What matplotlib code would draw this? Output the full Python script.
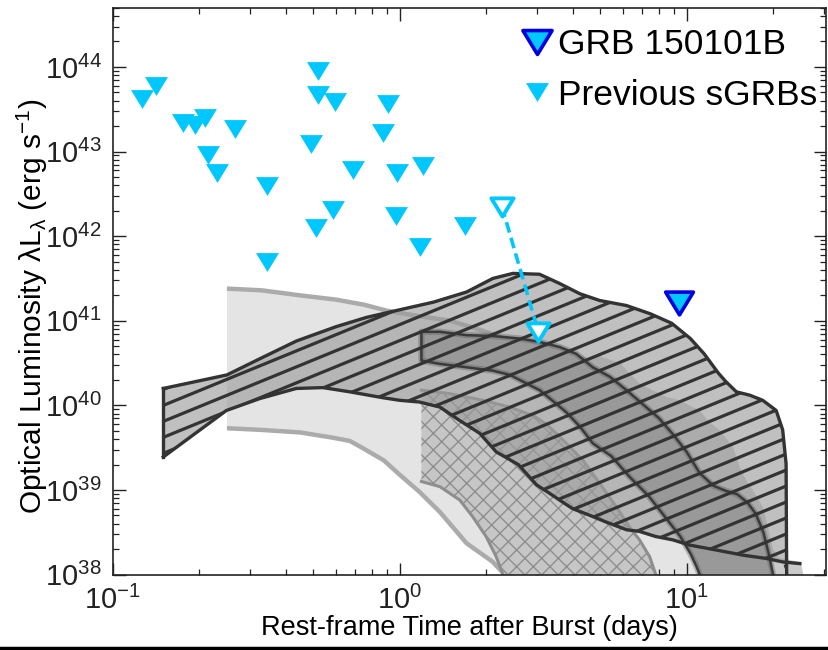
import numpy as np
import matplotlib
matplotlib.use("Agg")
import matplotlib.pyplot as plt
from matplotlib.lines import Line2D
from matplotlib.path import Path

# ---------------- data ----------------
# Previous short GRBs: optical upper limits (rest-frame days, erg/s)
prev_t = [0.126, 0.141, 0.176, 0.194, 0.209, 0.214, 0.231, 0.266, 0.345, 0.345,
          0.492, 0.511, 0.517, 0.520, 0.586, 0.593, 0.689, 0.877, 0.911, 0.97,
          0.98, 1.18, 1.21, 1.69]
prev_L = [4.2e43, 5.9e43, 2.2e43, 2.04e43, 2.5e43, 9.1e42, 5.6e42, 1.87e43, 3.9e42, 5.0e41,
          1.22e43, 1.25e42, 4.6e43, 8.9e43, 2.06e42, 3.8e43, 6.0e42, 1.67e43, 3.6e43, 1.73e42,
          5.6e42, 7.4e41, 6.8e42, 1.32e42]

# GRB 150101B upper limit
grb_t = [9.42]
grb_L = [1.6e41]

# Shifted limit (open markers joined by dashed line)
shift_t = [2.27, 3.04]
shift_L = [2.24e42, 7.4e40]

# Light band (log10 L)
a_hi_t = [0.25, 0.33, 0.45, 0.6, 0.75, 0.9, 1.05, 1.25, 1.5, 1.8, 2.2, 2.7, 3.3, 4.0,
          5.0, 6.2, 7.5, 9.0, 10.5, 11.5]
a_hi_logL = [41.38, 41.36, 41.30, 41.25, 41.19, 41.12, 41.08, 41.04, 41.00, 40.92, 40.82,
             40.68, 40.52, 40.36, 40.10, 39.78, 39.40, 38.95, 38.45, 38.0]
a_lo_t = [0.25, 0.33, 0.45, 0.58, 0.67, 0.73, 0.88, 1.0, 1.17, 1.38, 1.71, 2.11, 2.32]
a_lo_logL = [39.73, 39.71, 39.68, 39.62, 39.58, 39.51, 39.35, 39.18, 38.98, 38.74, 38.37,
             38.15, 38.0]

# Cross-hatched band
b_hi_t = [1.19, 1.49, 1.95, 2.42, 2.91, 3.24, 3.71, 4.35, 4.97, 5.69, 6.33, 6.85, 7.43, 7.8]
b_hi_logL = [40.18, 40.14, 40.06, 39.98, 39.88, 39.78, 39.59, 39.35, 39.08, 38.80, 38.56,
             38.41, 38.21, 38.0]
b_lo_t = [1.19, 1.38, 1.62, 1.80, 2.0, 2.17, 2.29]
b_lo_logL = [39.10, 39.04, 38.88, 38.68, 38.45, 38.21, 38.0]

# Striped band
d_hi_t = [0.15, 0.25, 0.325, 0.436, 0.6, 0.766, 1.0, 1.31, 1.71, 2.11, 2.48, 3.07, 3.61,
          4.24, 4.97, 6.17, 7.5, 8.87, 10.3, 11.5, 12.9, 13.7, 14.9, 16.6, 18.4, 20.5,
          21.6, 22.2, 22.3]
d_hi_logL = [40.20, 40.36, 40.55, 40.76, 40.93, 41.04, 41.13, 41.22, 41.34, 41.50, 41.56,
             41.55, 41.44, 41.32, 41.24, 41.18, 41.08, 40.97, 40.79, 40.61, 40.38, 40.28,
             40.16, 40.12, 40.06, 39.94, 39.71, 39.31, 38.0]
d_lo_t = [0.15, 0.249, 0.325, 0.436, 0.54, 0.67, 0.875, 1.0, 1.17, 1.38, 1.62, 1.90, 2.17,
          2.59, 3.0, 3.33, 3.61, 4.0, 4.6, 5.25, 6.17, 6.85, 7.8, 8.96, 10.2, 12.7, 15.7,
          19.0, 21.6, 24.8]
d_lo_logL = [39.39, 39.94, 40.08, 40.20, 40.21, 40.16, 40.09, 40.06, 40.04, 39.98, 39.82,
             39.67, 39.45, 39.30, 39.06, 38.96, 38.88, 38.78, 38.70, 38.62, 38.53, 38.51,
             38.45, 38.41, 38.35, 38.29, 38.23, 38.19, 38.15, 38.13]

# Dark band
e_hi_t = [1.19, 1.38, 1.71, 2.11, 2.62, 3.07, 3.61, 4.12, 4.71, 5.39, 6.17, 7.0, 8.0,
          9.0, 10.0, 11.1, 12.4, 13.7, 15.0, 16.3, 17.4, 18.5, 19.3, 20.0]
e_hi_logL = [40.87, 40.87, 40.83, 40.82, 40.79, 40.75, 40.69, 40.61, 40.45, 40.34, 40.18,
             40.02, 39.85, 39.65, 39.45, 39.20, 39.05, 38.99, 38.95, 38.85, 38.72, 38.50,
             38.25, 38.0]
e_lo_t = [1.19, 1.38, 1.71, 2.11, 2.42, 2.76, 3.07, 3.42, 3.8, 4.24, 4.71, 5.46, 6.34,
          7.36, 8.5, 9.5, 10.3, 10.8, 11.1]
e_lo_logL = [40.53, 40.49, 40.45, 40.41, 40.36, 40.26, 40.18, 40.05, 39.92, 39.75, 39.55,
             39.40, 39.15, 38.93, 38.66, 38.45, 38.25, 38.10, 38.0]

# Noisy medium band (outer edge)
c_t = [4.2, 4.6, 5.0, 5.5, 5.9, 6.2, 6.85, 7.2, 7.6, 8.5, 9.45, 10.2, 11.1, 12.0, 13.0,
       14.5, 15.3, 16.1, 17.0, 18.4, 19.3, 20.0, 21.0, 23.0, 25.0, 25.5]
c_logL = [40.60, 40.55, 40.58, 40.53, 40.49, 40.41, 40.26, 40.22, 40.18, 40.10, 40.06,
          40.00, 39.94, 39.80, 39.71, 39.51, 39.27, 39.12, 39.00, 38.80, 38.53, 38.30,
          38.20, 38.17, 38.15, 38.0]

x_tick_exp = [-1, 0, 1]
y_tick_exp = [38, 39, 40, 41, 42, 43, 44]

# ---------------- style ----------------
FONT = ['Liberation Sans', 'DejaVu Sans']
plt.rcParams['font.family'] = FONT
plt.rcParams['mathtext.fontset'] = 'custom'
plt.rcParams['mathtext.rm'] = 'Liberation Sans'
plt.rcParams['mathtext.it'] = 'Liberation Sans'
plt.rcParams['hatch.linewidth'] = 1.0

CYAN = '#00C8FF'
DARK = '#333333'

fig = plt.figure(figsize=(8.29, 6.5), dpi=100)
ax = fig.add_axes([0.136, 0.116, 0.860, 0.872])
ax.set_xscale('log')
ax.set_yscale('log')
ax.set_xlim(0.1, 30.5)
ax.set_ylim(1e38, 5e44)


def L(v):
    return 10 ** np.asarray(v, dtype=float)


def band(t_hi, l_hi, t_lo, l_lo):
    xs = np.r_[np.asarray(t_hi, float), np.asarray(t_lo, float)[::-1]]
    ys = np.r_[L(l_hi), L(l_lo)[::-1]]
    return xs, ys


# light band
xs, ys = band(a_hi_t, a_hi_logL, a_lo_t, a_lo_logL)
ax.fill(xs, ys, color='#E4E4E4', lw=0, zorder=1)
ax.plot(a_hi_t, L(a_hi_logL), color='#ABABAB', lw=3.2, zorder=1.2, solid_capstyle='butt')
ax.plot(a_lo_t, L(a_lo_logL), color='#ABABAB', lw=3.2, zorder=1.2, solid_capstyle='butt')

# cross-hatched band
xs, ys = band(b_hi_t, b_hi_logL, b_lo_t, b_lo_logL)
ax.fill(xs, ys, facecolor='#C6C6C6', edgecolor='#8E8E8E', hatch='xx', lw=0, zorder=2)
ax.plot(b_hi_t, L(b_hi_logL), color='#8E8E8E', lw=2.2, zorder=2.2)
ax.plot(b_lo_t, L(b_lo_logL), color='#8E8E8E', lw=2.2, zorder=2.2)

# noisy medium band, bounded inside by the dark band
xs = np.r_[np.asarray(c_t, float), np.asarray(e_lo_t, float)[::-1][:-1]]
ys = np.r_[L(c_logL), L(e_lo_logL)[::-1][:-1]]
ax.fill(xs, ys, color='#CACACA', lw=0, zorder=2.5)

# striped band fill (semi-transparent)
xs = np.r_[np.asarray(d_hi_t, float), [22.3], np.asarray(d_lo_t, float)[::-1]]
ys = np.r_[L(d_hi_logL), [1e38], L(d_lo_logL)[::-1]]
mask = xs <= 22.3
d_poly = ax.fill(xs[mask], ys[mask], color='#9A9A9A', alpha=0.62, lw=0, zorder=3)[0]

# dark band
xs, ys = band(e_hi_t, e_hi_logL, e_lo_t, e_lo_logL)
ax.fill(xs, ys, color='#999999', lw=0, zorder=3.5)
e_edge_x = np.r_[np.asarray(e_lo_t, float)[::-1], np.asarray(e_hi_t, float)]
e_edge_y = np.r_[L(e_lo_logL)[::-1], L(e_hi_logL)]
ax.plot(e_edge_x, e_edge_y, color='#555555', lw=4.5, alpha=0.35, zorder=3.6)
ax.plot(e_edge_x, e_edge_y, color='#3A3A3A', lw=1.8, zorder=3.7)

# stripes clipped to the striped band
slope = 0.515
gap = 0.0282
for k in range(-40, 40):
    c0 = -0.02 + k * gap
    ln, = ax.plot([0, 1], [c0, c0 + slope], transform=ax.transAxes,
                  color=DARK, lw=2.3, zorder=4)
    ln.set_clip_path(d_poly)

# striped band outline
ax.plot(d_hi_t, L(d_hi_logL), color=DARK, lw=2.4, zorder=4.2)
ax.plot(d_lo_t, L(d_lo_logL), color=DARK, lw=2.4, zorder=4.2)
ax.plot([d_hi_t[0], d_lo_t[0]], [L(d_hi_logL[0]), L(d_lo_logL[0])], color=DARK, lw=2.4,
        zorder=4.2)

# upper limits (closed downward triangle, slightly wider than tall)
tri = Path([(-1, 0.82), (1, 0.82), (0, -0.82), (-1, 0.82)], closed=True)
ax.plot(prev_t, prev_L, ls='none', marker=tri, ms=16.5, mfc=CYAN, mec=CYAN, mew=0,
        zorder=6)
ax.plot(shift_t, shift_L, ls=(0, (3.0, 1.5)), color=CYAN, lw=2.6, zorder=6)
ax.plot(shift_t, shift_L, ls='none', marker=tri, ms=16, mfc='white', mec=CYAN, mew=2.8,
        zorder=7)
ax.plot(grb_t, grb_L, ls='none', marker=tri, ms=20, mfc=CYAN, mec='#0000E0', mew=2.6,
        zorder=7)

# axes styling
for sp in ax.spines.values():
    sp.set_linewidth(1.2)
    sp.set_color('#222222')
    sp.set_zorder(10)
ax.tick_params(which='both', direction='in', top=True, right=True, colors='#222222')
ax.tick_params(which='major', length=9, width=1.0, pad=8)
ax.tick_params(which='minor', length=4.5, width=0.9)
ax.yaxis.set_minor_locator(matplotlib.ticker.LogLocator(base=10, subs=np.arange(2, 10)))
ax.xaxis.set_minor_locator(matplotlib.ticker.LogLocator(base=10, subs=np.arange(2, 10)))
ax.set_xticks([10.0 ** e for e in x_tick_exp])
ax.set_yticks([10.0 ** e for e in y_tick_exp])
ax.set_xticklabels([r'10$^{%d}$' % e for e in x_tick_exp], fontsize=21)
ax.set_yticklabels([r'10$^{%d}$' % e for e in y_tick_exp], fontsize=21)

ax.set_xlabel('Rest-frame Time after Burst (days)', fontsize=19.5, labelpad=0)
ax.set_ylabel(r'Optical Luminosity λL$_{λ}$ (erg s$^{-1}$)', fontsize=21.5)
ax.yaxis.set_label_coords(-0.088, 0.474)

handles = [Line2D([], [], ls='none', marker=tri, ms=21, mfc=CYAN, mec='#0000E0', mew=2.6),
           Line2D([], [], ls='none', marker=tri, ms=16.5, mfc=CYAN, mec=CYAN, mew=0)]
leg = ax.legend(handles, ['GRB 150101B', 'Previous sGRBs'], loc='upper right',
                bbox_to_anchor=(1.0, 0.98), frameon=False, prop={'size': 25.5},
                handlelength=0.75, handletextpad=0.2, borderpad=0.15,
                borderaxespad=0.1, labelspacing=0.5)
leg.set_zorder(12)

fig.add_artist(Line2D([0, 1], [0.003, 0.003], transform=fig.transFigure, color='black',
                      lw=2.5))

fig.savefig('out.png', dpi=100)
